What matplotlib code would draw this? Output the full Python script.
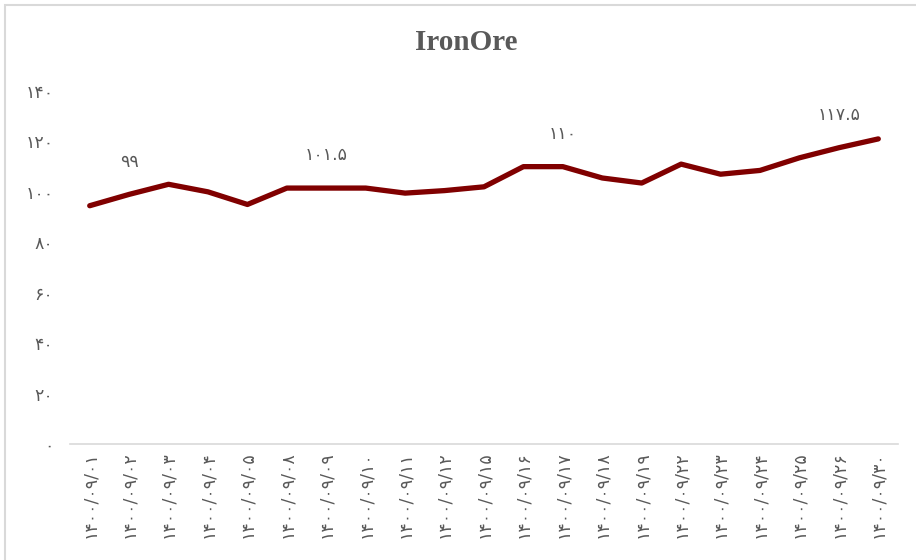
import matplotlib
matplotlib.use("Agg")
import matplotlib.pyplot as plt
from matplotlib.patches import Rectangle

# data
dates = ["۱۴۰۰/۰۹/۰۱", "۱۴۰۰/۰۹/۰۲", "۱۴۰۰/۰۹/۰۳", "۱۴۰۰/۰۹/۰۴", "۱۴۰۰/۰۹/۰۵",
         "۱۴۰۰/۰۹/۰۸", "۱۴۰۰/۰۹/۰۹", "۱۴۰۰/۰۹/۱۰", "۱۴۰۰/۰۹/۱۱", "۱۴۰۰/۰۹/۱۲",
         "۱۴۰۰/۰۹/۱۵", "۱۴۰۰/۰۹/۱۶", "۱۴۰۰/۰۹/۱۷", "۱۴۰۰/۰۹/۱۸", "۱۴۰۰/۰۹/۱۹",
         "۱۴۰۰/۰۹/۲۲", "۱۴۰۰/۰۹/۲۳", "۱۴۰۰/۰۹/۲۴", "۱۴۰۰/۰۹/۲۵", "۱۴۰۰/۰۹/۲۶",
         "۱۴۰۰/۰۹/۳۰"]
prices = [94.5, 99, 103, 100, 95, 101.5, 101.5, 101.5, 99.5, 100.5, 102,
          110, 110, 105.5, 103.5, 111, 107, 108.5, 113.5, 117.5, 121]
labelled = [1, 6, 12, 19]
label_texts = ["۹۹", "۱۰۱.۵", "۱۱۰", "۱۱۷.۵"]
yticks = [0, 20, 40, 60, 80, 100, 120, 140]
ytick_labels = ["۰", "۲۰", "۴۰", "۶۰", "۸۰", "۱۰۰", "۱۲۰", "۱۴۰"]

gray = "#595959"
plt.rcParams['font.family'] = ['DejaVu Sans']

fig = plt.figure(figsize=(9.16, 5.6), dpi=100)
ax = fig.add_axes([70 / 916, 1 - 444 / 560, 828 / 916, 353 / 560])

x = list(range(len(prices)))
ax.plot(x, prices, color="#800000", linewidth=3.8, solid_capstyle="round",
        solid_joinstyle="round")

for i, t in zip(labelled, label_texts):
    ax.annotate(t, (i, prices[i]), xytext=(0, 17), textcoords="offset points",
                ha="center", va="bottom", fontsize=12.5, color=gray)

ax.set_xlim(-0.5, len(prices) - 0.5)
ax.set_ylim(0, 140)
ax.set_yticks(yticks)
ax.set_yticklabels(ytick_labels, fontsize=12.5, color=gray)
ax.set_xticks(x)
ax.set_xticklabels(dates, rotation=90, fontsize=12.5, color=gray)
ax.tick_params(axis="x", length=0, pad=5)
ax.tick_params(axis="y", length=0, pad=12)

for s in ["top", "right", "left"]:
    ax.spines[s].set_visible(False)
ax.spines["bottom"].set_color("#d9d9d9")
ax.spines["bottom"].set_linewidth(1.2)

fig.text(466 / 916, 1 - 43 / 560, "IronOre", ha="center", va="center",
         fontsize=21, fontweight="bold", family="Liberation Serif", color=gray)

# chart area border (cropped on the right and bottom)
fig.patches.append(Rectangle((5 / 916, -0.05), 1.2, 1 - 5 / 560 + 0.05,
                             transform=fig.transFigure, fill=False,
                             edgecolor="#d9d9d9", linewidth=1.5))

fig.savefig("out.png", dpi=100)
